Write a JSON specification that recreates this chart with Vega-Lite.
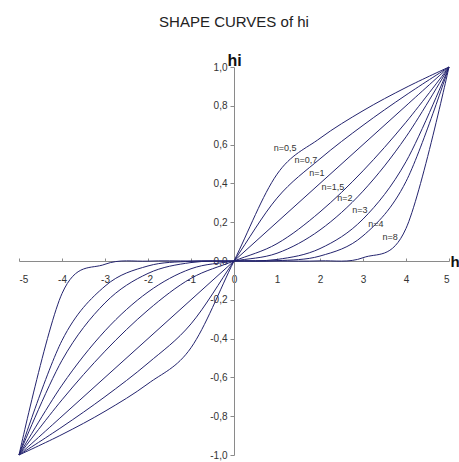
{
  "$schema": "https://vega.github.io/schema/vega-lite/v6.json",
  "autosize": {"type": "none"},
  "width": 430,
  "height": 388,
  "padding": {"left": 19, "top": 67, "right": 10, "bottom": 7},
  "background": "white",
  "title": {
    "text": "SHAPE CURVES of hi",
    "font": "Liberation Sans",
    "fontSize": 15,
    "fontWeight": "normal",
    "color": "#222222",
    "anchor": "middle",
    "offset": 22
  },
  "config": {
    "view": {"stroke": null},
    "font": "Liberation Sans"
  },
  "datasets": {
    "curves": [
      {"n": "0.5", "h": -5, "hi": -1}, {"n": "0.5", "h": -4, "hi": -0.8944}, {"n": "0.5", "h": -3, "hi": -0.7746}, {"n": "0.5", "h": -2, "hi": -0.6325}, {"n": "0.5", "h": -1, "hi": -0.4472}, {"n": "0.5", "h": 0, "hi": 0}, {"n": "0.5", "h": 1, "hi": 0.4472}, {"n": "0.5", "h": 2, "hi": 0.6325}, {"n": "0.5", "h": 3, "hi": 0.7746}, {"n": "0.5", "h": 4, "hi": 0.8944}, {"n": "0.5", "h": 5, "hi": 1},
      {"n": "0.7", "h": -5, "hi": -1}, {"n": "0.7", "h": -4, "hi": -0.8554}, {"n": "0.7", "h": -3, "hi": -0.6994}, {"n": "0.7", "h": -2, "hi": -0.5266}, {"n": "0.7", "h": -1, "hi": -0.3241}, {"n": "0.7", "h": 0, "hi": 0}, {"n": "0.7", "h": 1, "hi": 0.3241}, {"n": "0.7", "h": 2, "hi": 0.5266}, {"n": "0.7", "h": 3, "hi": 0.6994}, {"n": "0.7", "h": 4, "hi": 0.8554}, {"n": "0.7", "h": 5, "hi": 1},
      {"n": "1", "h": -5, "hi": -1}, {"n": "1", "h": -4, "hi": -0.8}, {"n": "1", "h": -3, "hi": -0.6}, {"n": "1", "h": -2, "hi": -0.4}, {"n": "1", "h": -1, "hi": -0.2}, {"n": "1", "h": 0, "hi": 0}, {"n": "1", "h": 1, "hi": 0.2}, {"n": "1", "h": 2, "hi": 0.4}, {"n": "1", "h": 3, "hi": 0.6}, {"n": "1", "h": 4, "hi": 0.8}, {"n": "1", "h": 5, "hi": 1},
      {"n": "1.5", "h": -5, "hi": -1}, {"n": "1.5", "h": -4, "hi": -0.7155}, {"n": "1.5", "h": -3, "hi": -0.4648}, {"n": "1.5", "h": -2, "hi": -0.253}, {"n": "1.5", "h": -1, "hi": -0.0894}, {"n": "1.5", "h": 0, "hi": 0}, {"n": "1.5", "h": 1, "hi": 0.0894}, {"n": "1.5", "h": 2, "hi": 0.253}, {"n": "1.5", "h": 3, "hi": 0.4648}, {"n": "1.5", "h": 4, "hi": 0.7155}, {"n": "1.5", "h": 5, "hi": 1},
      {"n": "2", "h": -5, "hi": -1}, {"n": "2", "h": -4, "hi": -0.64}, {"n": "2", "h": -3, "hi": -0.36}, {"n": "2", "h": -2, "hi": -0.16}, {"n": "2", "h": -1, "hi": -0.04}, {"n": "2", "h": 0, "hi": 0}, {"n": "2", "h": 1, "hi": 0.04}, {"n": "2", "h": 2, "hi": 0.16}, {"n": "2", "h": 3, "hi": 0.36}, {"n": "2", "h": 4, "hi": 0.64}, {"n": "2", "h": 5, "hi": 1},
      {"n": "3", "h": -5, "hi": -1}, {"n": "3", "h": -4, "hi": -0.512}, {"n": "3", "h": -3, "hi": -0.216}, {"n": "3", "h": -2, "hi": -0.064}, {"n": "3", "h": -1, "hi": -0.008}, {"n": "3", "h": 0, "hi": 0}, {"n": "3", "h": 1, "hi": 0.008}, {"n": "3", "h": 2, "hi": 0.064}, {"n": "3", "h": 3, "hi": 0.216}, {"n": "3", "h": 4, "hi": 0.512}, {"n": "3", "h": 5, "hi": 1},
      {"n": "4", "h": -5, "hi": -1}, {"n": "4", "h": -4, "hi": -0.4096}, {"n": "4", "h": -3, "hi": -0.1296}, {"n": "4", "h": -2, "hi": -0.0256}, {"n": "4", "h": -1, "hi": -0.0016}, {"n": "4", "h": 0, "hi": 0}, {"n": "4", "h": 1, "hi": 0.0016}, {"n": "4", "h": 2, "hi": 0.0256}, {"n": "4", "h": 3, "hi": 0.1296}, {"n": "4", "h": 4, "hi": 0.4096}, {"n": "4", "h": 5, "hi": 1},
      {"n": "8", "h": -5, "hi": -1}, {"n": "8", "h": -4, "hi": -0.1678}, {"n": "8", "h": -3, "hi": -0.0168}, {"n": "8", "h": -2, "hi": -0.00066}, {"n": "8", "h": -1, "hi": -0.0000026}, {"n": "8", "h": 0, "hi": 0}, {"n": "8", "h": 1, "hi": 0.0000026}, {"n": "8", "h": 2, "hi": 0.00066}, {"n": "8", "h": 3, "hi": 0.0168}, {"n": "8", "h": 4, "hi": 0.1678}, {"n": "8", "h": 5, "hi": 1}
    ],
    "labels": [
      {"label": "n=0,5", "h": 1.19, "hi": 0.582},
      {"label": "n=0,7", "h": 1.67, "hi": 0.521},
      {"label": "n=1", "h": 1.93, "hi": 0.454},
      {"label": "n=1,5", "h": 2.3, "hi": 0.381},
      {"label": "n=2", "h": 2.58, "hi": 0.325},
      {"label": "n=3", "h": 2.93, "hi": 0.263},
      {"label": "n=4", "h": 3.3, "hi": 0.191},
      {"label": "n=8", "h": 3.63, "hi": 0.124}
    ]
  },
  "encoding": {
    "x": {
      "field": "h",
      "type": "quantitative",
      "scale": {"domain": [-5, 5], "nice": false, "zero": false},
      "axis": {
        "orient": "bottom",
        "offset": -194,
        "values": [-5, -4, -3, -2, -1, 0, 1, 2, 3, 4, 5],
        "labelExpr": "(datum.value < 0 ? '-' : '') + abs(datum.value)",
        "grid": false,
        "domainColor": "#8a8a8a",
        "tickColor": "#8a8a8a",
        "tickSize": -3,
        "labelPadding": 16,
        "labelFontSize": 10,
        "labelColor": "#333333",
        "labelFont": "Liberation Sans",
        "title": "h",
        "titleAngle": 0,
        "titleX": 431,
        "titleY": 0,
        "titleAlign": "left",
        "titleBaseline": "middle",
        "titleFontSize": 15,
        "titleFontWeight": "bold",
        "titleColor": "#111111",
        "titleFont": "Liberation Sans"
      }
    },
    "y": {
      "field": "hi",
      "type": "quantitative",
      "scale": {"domain": [-1, 1], "nice": false, "zero": false},
      "axis": {
        "orient": "left",
        "offset": -215,
        "values": [-1, -0.8, -0.6, -0.4, -0.2, 0, 0.2, 0.4, 0.6, 0.8, 1],
        "labelExpr": "(datum.value < 0 ? '-' : '') + replace(format(abs(datum.value), '.1f'), '.', ',')",
        "grid": false,
        "domainColor": "#8a8a8a",
        "tickColor": "#8a8a8a",
        "tickSize": 4,
        "labelPadding": 3,
        "labelFontSize": 10,
        "labelColor": "#333333",
        "labelFont": "Liberation Sans",
        "title": "hi",
        "titleAngle": 0,
        "titleX": 0,
        "titleY": 1,
        "titleAlign": "center",
        "titleBaseline": "bottom",
        "titleFontSize": 16,
        "titleFontWeight": "bold",
        "titleColor": "#111111",
        "titleFont": "Liberation Sans"
      }
    }
  },
  "layer": [
    {
      "data": {"name": "curves"},
      "mark": {"type": "line", "interpolate": "cardinal", "stroke": "#23236e", "strokeWidth": 1, "clip": false},
      "encoding": {
        "detail": {"field": "n", "type": "nominal"},
        "order": {"field": "h", "type": "quantitative"}
      }
    },
    {
      "data": {"name": "labels"},
      "mark": {"type": "text", "font": "Liberation Sans", "fontSize": 9, "color": "#333333", "align": "center", "baseline": "middle"},
      "encoding": {
        "text": {"field": "label", "type": "nominal"}
      }
    }
  ]
}
